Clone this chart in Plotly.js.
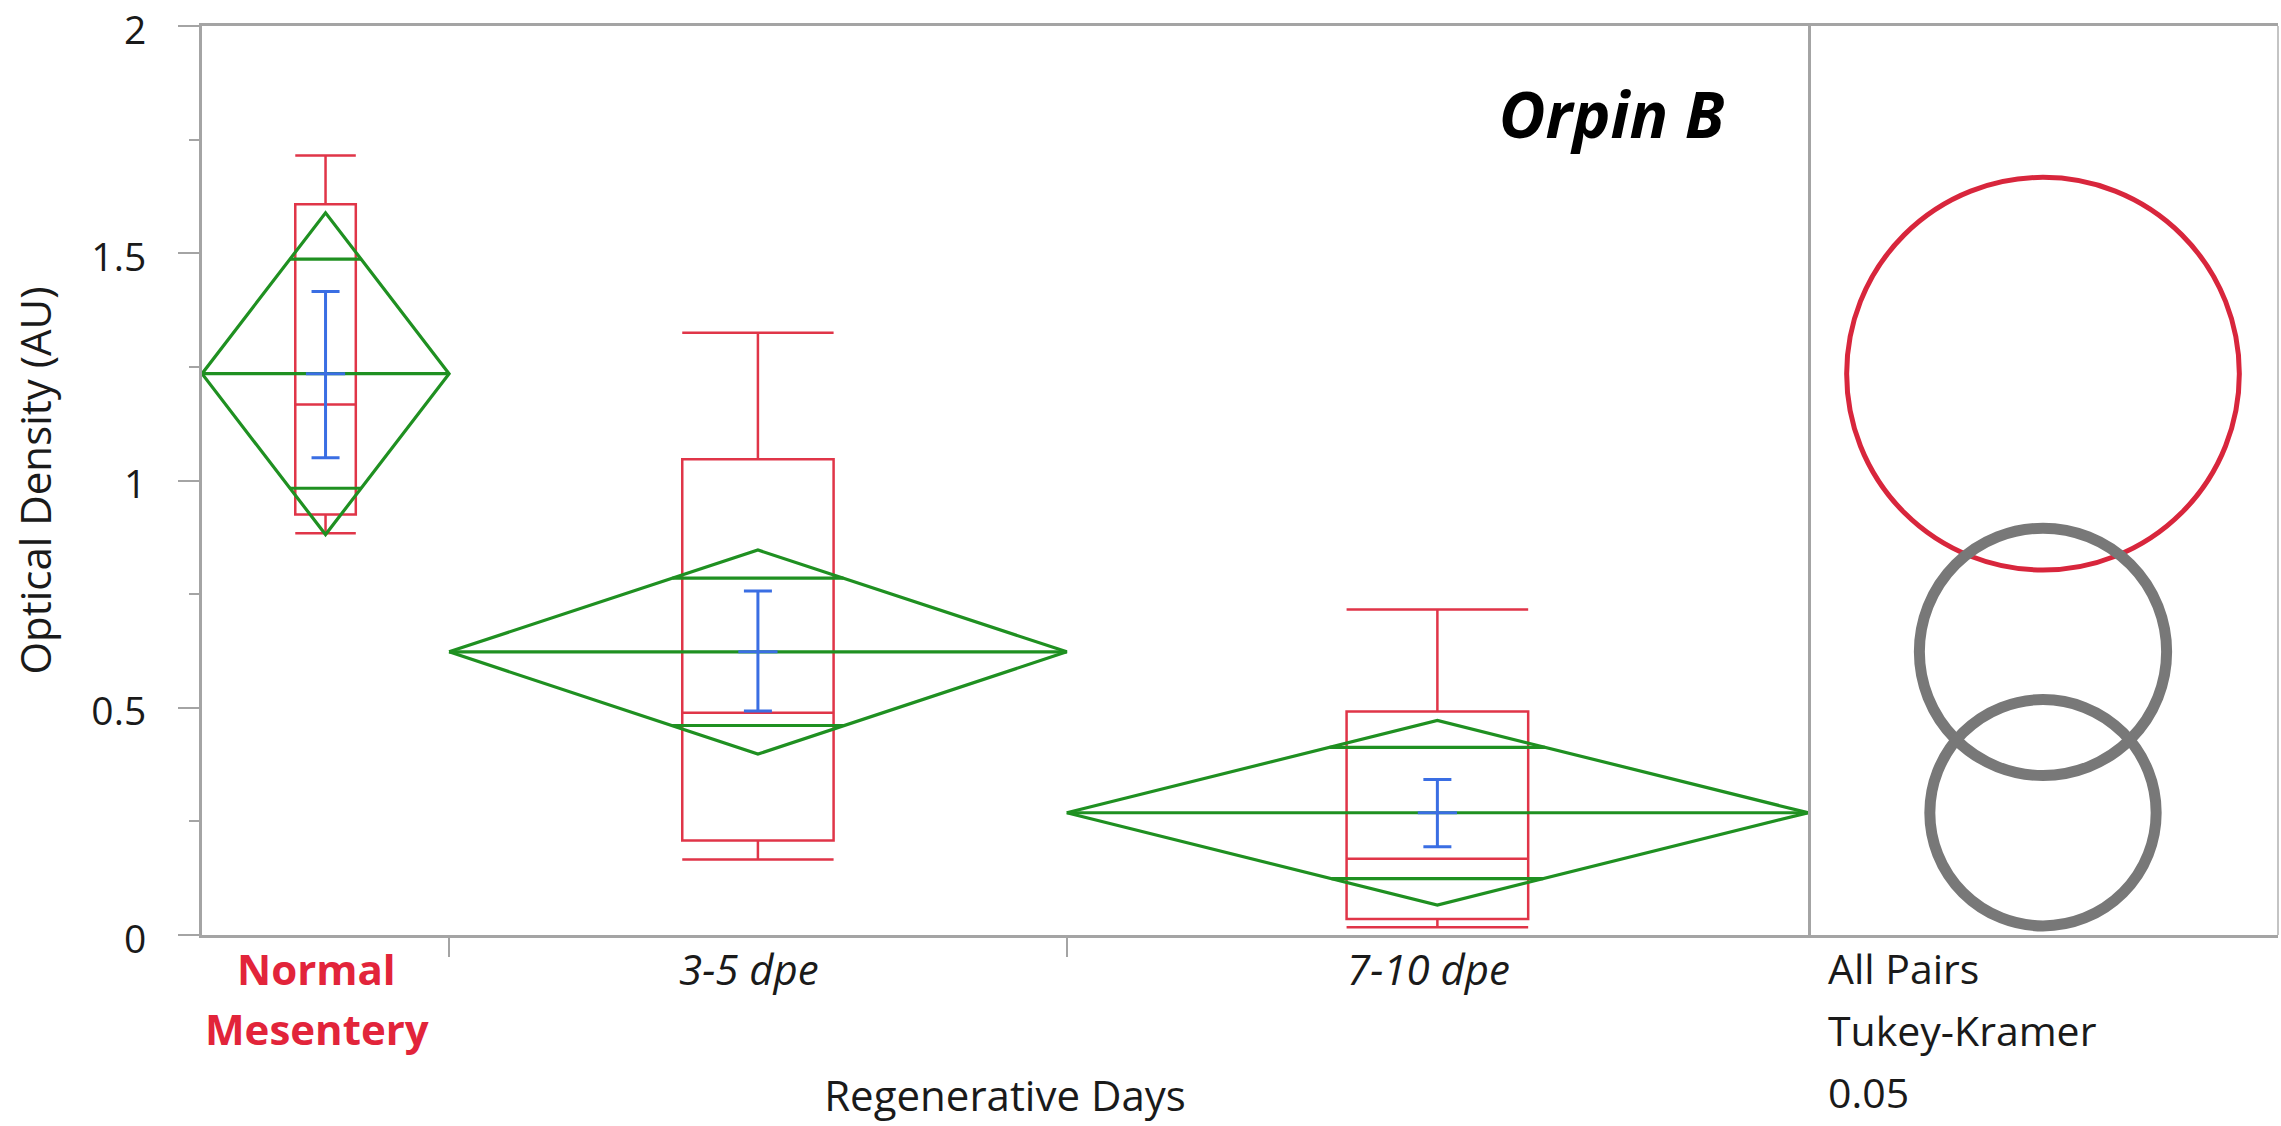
<!DOCTYPE html>
<html>
<head>
<meta charset="utf-8">
<script src="https://cdn.plot.ly/plotly-3.0.1.min.js"></script>
<style>
html,body{margin:0;padding:0;background:#ffffff;}
#chart{width:2281px;height:1126px;}
</style>
</head>
<body>
<div id="chart"></div>
<script>
// ---------------- DATA ----------------
const categories   = ['Normal<br>Mesentery', '3-5 dpe', '7-10 dpe'];
const sampleSizes  = [4, 10, 12];
const means        = [1.235, 0.623, 0.269];
const ciLow        = [0.881, 0.398, 0.066];
const ciHigh       = [1.589, 0.847, 0.472];
const overlapLow   = [0.983, 0.461, 0.124];
const overlapHigh  = [1.487, 0.785, 0.413];
const whiskerLow   = [0.884, 0.166, 0.017];
const q1           = [0.925, 0.208, 0.035];
const medians      = [1.167, 0.489, 0.168];
const q3           = [1.608, 1.047, 0.492];
const whiskerHigh  = [1.715, 1.325, 0.716];
const seLow        = [1.050, 0.493, 0.194];
const seHigh       = [1.416, 0.757, 0.342];
const circleRadius = [0.432, 0.272, 0.249];
const significantGroup = [true, false, false];
const yTickVals    = [0, 0.5, 1, 1.5, 2];
const yTickText    = ['0', '0.5', '1', '1.5', '2'];
const yMinorVals   = [0.25, 0.75, 1.25, 1.75];
const yRange       = [0, 2];
const chartTitle   = 'Orpin B';
const xTitle       = 'Regenerative Days';
const yTitle       = 'Optical Density (AU)';
const testLines    = ['All Pairs', 'Tukey-Kramer', '0.05'];

// ---------------- STYLE / LAYOUT ----------------
const W = 2281, H = 1126;
const M = {l: 202, r: 3, t: 26, b: 191};
const mainFrac = 0.7736;           // main panel share of plot width
const boxFrac = 0.245;             // box width as share of group width
const FONT = 'Open Sans, Noto Sans, sans-serif';
const RED = '#e03548', RED_TXT = '#e2243a', RED_CIRC = '#d8263c';
const GREEN = '#1f9021', BLUE = '#3a6ee3', GREY_CIRC = '#787878';
const AXIS = '#a4a4a4';

// positions derived from sample sizes (JMP widths proportional to n)
const starts = [], centers = [], ends = [];
let acc = 0;
sampleSizes.forEach(n => { starts.push(acc); centers.push(acc + n / 2); acc += n; ends.push(acc); });
const total = acc;
const dividers = ends.slice(0, -1);

const traces = [];

// Box plots (red)
categories.forEach((c, i) => {
  traces.push({
    type: 'box', x: [centers[i]],
    q1: [q1[i]], median: [medians[i]], q3: [q3[i]],
    lowerfence: [whiskerLow[i]], upperfence: [whiskerHigh[i]],
    width: sampleSizes[i] * boxFrac, whiskerwidth: 1,
    line: {color: RED, width: 2.5}, fillcolor: 'rgba(0,0,0,0)',
    boxpoints: false, hoverinfo: 'skip', xaxis: 'x', yaxis: 'y'
  });
});

// Means diamonds (green)
categories.forEach((c, i) => {
  const s = starts[i], e = ends[i], m = centers[i], hw = sampleSizes[i] / 2;
  const fh = 1 - (overlapHigh[i] - means[i]) / (ciHigh[i] - means[i]);
  const fl = 1 - (means[i] - overlapLow[i]) / (means[i] - ciLow[i]);
  traces.push({
    type: 'scatter', mode: 'lines', hoverinfo: 'skip',
    x: [s, m, e, m, s, null, s, e, null, m - hw * fh, m + hw * fh, null, m - hw * fl, m + hw * fl],
    y: [means[i], ciHigh[i], means[i], ciLow[i], means[i], null, means[i], means[i], null,
        overlapHigh[i], overlapHigh[i], null, overlapLow[i], overlapLow[i]],
    line: {color: GREEN, width: 3.2}, xaxis: 'x', yaxis: 'y'
  });
});

// Std error bars (blue)
traces.push({
  type: 'scatter', mode: 'markers', hoverinfo: 'skip',
  x: centers, y: means,
  marker: {symbol: 'line-ew', size: 28, color: BLUE, line: {color: BLUE, width: 3}},
  error_y: {type: 'data', symmetric: false,
    array: seHigh.map((v, i) => v - means[i]),
    arrayminus: seLow.map((v, i) => means[i] - v),
    color: BLUE, thickness: 3, width: 14},
  xaxis: 'x', yaxis: 'y'
});

// anchor trace for the comparison-circle panel
traces.push({type: 'scatter', mode: 'markers', x: means.map(() => 0), y: means,
  marker: {size: 1, opacity: 0}, hoverinfo: 'skip', xaxis: 'x2', yaxis: 'y'});

// comparison circle panel scale (true circles)
const plotW = W - M.l - M.r, plotH = H - M.t - M.b;
const pxPerUnitY = plotH / (yRange[1] - yRange[0]);
const panelPx = plotW * (1 - mainFrac);
const x2Half = panelPx / pxPerUnitY / 2;

const shapes = means.map((m, i) => ({
  type: 'circle', xref: 'x2', yref: 'y', layer: 'above',
  x0: -circleRadius[i], x1: circleRadius[i], y0: m - circleRadius[i], y1: m + circleRadius[i],
  line: {color: significantGroup[i] ? RED_CIRC : GREY_CIRC, width: significantGroup[i] ? 5 : 11},
  fillcolor: 'rgba(0,0,0,0)'
}));
shapes.push({type: 'line', xref: 'paper', yref: 'paper', x0: 1, x1: 1, y0: 0, y1: 1,
  line: {color: '#c4c4c4', width: 2}});

// annotations: category labels + test description
const annotations = [];
categories.forEach((c, i) => {
  c.split('<br>').forEach((line, k) => {
    annotations.push({
      text: line, xref: 'x', x: centers[i], yref: 'paper', y: 0,
      xanchor: 'center', yanchor: 'middle', xshift: -9, yshift: -33 - 60 * k,
      showarrow: false,
      font: {family: FONT, size: 42, color: significantGroup[i] ? RED_TXT : '#1a1a1a',
             weight: significantGroup[i] ? 700 : 400, style: significantGroup[i] ? 'normal' : 'italic'}
    });
  });
});
testLines.forEach((t, k) => {
  annotations.push({
    text: t, xref: 'paper', x: mainFrac, xshift: 18, yref: 'paper', y: 0,
    xanchor: 'left', yanchor: 'middle', yshift: -33 - 62 * k, showarrow: false,
    font: {family: FONT, size: 41, color: '#1a1a1a'}
  });
});

const layout = {
  width: W, height: H, margin: M,
  paper_bgcolor: '#ffffff', plot_bgcolor: '#ffffff', showlegend: false,
  font: {family: FONT, color: '#222222'},
  title: {text: chartTitle, xref: 'paper', x: 0.679, xanchor: 'center',
          yref: 'container', y: 0.897, yanchor: 'middle',
          font: {family: FONT, size: 64, weight: 700, style: 'italic', color: '#000000'}},
  xaxis: {domain: [0, mainFrac], range: [0, total], showline: true, linecolor: AXIS, linewidth: 3,
    mirror: true, ticks: 'outside', tickvals: dividers, ticklen: 19, tickwidth: 2, tickcolor: AXIS,
    showticklabels: false, showgrid: false, zeroline: false,
    title: {text: xTitle, standoff: 126, font: {family: FONT, size: 42, color: '#1a1a1a'}}},
  xaxis2: {domain: [mainFrac, 1], anchor: 'y', range: [-x2Half, x2Half], showline: true,
    linecolor: AXIS, linewidth: 3, mirror: true, ticks: '', showticklabels: false,
    showgrid: false, zeroline: false},
  yaxis: {range: yRange, tickvals: yTickVals, ticktext: yTickText, ticks: 'outside', ticklen: 21,
    tickwidth: 2, tickcolor: AXIS, showline: true, linecolor: AXIS, linewidth: 3, mirror: true,
    showgrid: false, zeroline: false, ticklabelstandoff: 24, ticklabelshift: 4, ticklabeloverflow: 'allow',
    tickfont: {family: FONT, size: 39, color: '#1a1a1a'},
    minor: {tickvals: yMinorVals, ticks: 'outside', ticklen: 10, tickwidth: 2, tickcolor: AXIS, showgrid: false},
    title: {text: yTitle, standoff: 27, font: {family: FONT, size: 42, color: '#1a1a1a'}}},
  shapes: shapes,
  annotations: annotations
};

Plotly.newPlot('chart', traces, layout, {staticPlot: true, displayModeBar: false});
</script>
</body>
</html>
